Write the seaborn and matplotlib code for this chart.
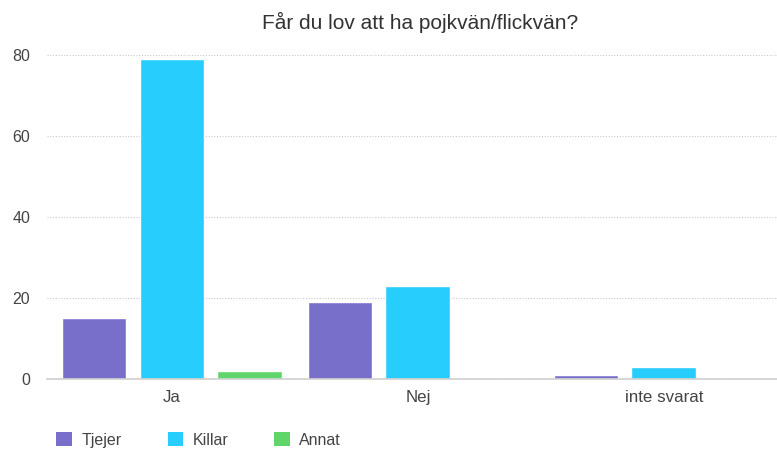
import matplotlib
matplotlib.use("Agg")
import matplotlib.pyplot as plt
import seaborn as sns
import pandas as pd
from matplotlib.patches import Patch

categories = ["Ja", "Nej", "inte svarat"]
series = ["Tjejer", "Killar", "Annat"]
tjejer = [15, 19, 1]
killar = [79, 23, 3]
annat = [2, 0, 0]
yticks = [0, 20, 40, 60, 80]
title = "Får du lov att ha pojkvän/flickvän?"
colors = ["#786fcb", "#27cdfd", "#60d66a"]

rows = []
for name, vals in zip(series, [tjejer, killar, annat]):
    for c, v in zip(categories, vals):
        rows.append({"kategori": c, "grupp": name, "antal": v})
df = pd.DataFrame(rows)

sns.set_theme(style="white")
plt.rcParams["font.family"] = ["Liberation Sans", "DejaVu Sans"]

fig = plt.figure(figsize=(7.77, 4.5), dpi=100)
ax = fig.add_axes([47 / 777, 1 - 379 / 450, 1 - 47 / 777, (379 - 55) / 450])

sns.barplot(data=df, x="kategori", y="antal", hue="grupp", order=categories,
            hue_order=series, palette=colors, width=0.95, gap=0.167,
            saturation=1, ax=ax, legend=False, errorbar=None)

ax.set_xlim(-0.508, 2.46)
ax.set_ylim(0, 80)
ax.set_yticks(yticks)
ax.yaxis.grid(True, linestyle=(0, (1, 1.5)), color="#c8c8c8", linewidth=0.8)
ax.set_axisbelow(True)
for s in ["top", "right", "left"]:
    ax.spines[s].set_visible(False)
ax.spines["bottom"].set_color("#cfcfcf")
ax.spines["bottom"].set_linewidth(1.2)
ax.set_xlabel("")
ax.set_ylabel("")
ax.tick_params(axis="y", length=0, labelsize=11.5, colors="#444444", pad=12)
ax.tick_params(axis="x", length=0, labelsize=12.2, colors="#444444", pad=8)

fig.text(420 / 777, 1 - 22 / 450, title, ha="center", va="center",
         fontsize=15, color="#333333")

handles = [Patch(facecolor=c, edgecolor="none", label=s) for c, s in zip(colors, series)]
fig.legend(handles=handles, loc="center left", bbox_to_anchor=(42 / 777, 1 - 440 / 450),
           ncol=3, frameon=False, fontsize=11.5, handlelength=0.95, handleheight=0.95,
           columnspacing=2.9, handletextpad=0.6, labelcolor="#444444")

fig.savefig("out.png", dpi=100)
